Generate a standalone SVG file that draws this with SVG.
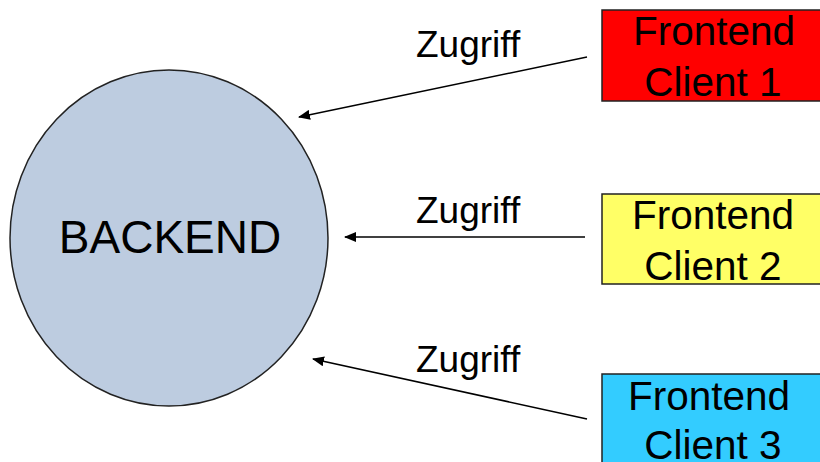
<svg xmlns="http://www.w3.org/2000/svg" width="820" height="462" viewBox="0 0 820 462">
<style>
text{font-family:"Liberation Sans",Arial,sans-serif;fill:#000}
.box{stroke:#222;stroke-width:1.5}
.lbl{font-size:40.5px;text-anchor:middle}
.zg{font-size:37px}
.conn{stroke:#000;stroke-width:1.5;fill:none}
</style>
<defs>
<marker id="ah" viewBox="0 0 12 10" refX="11" refY="5" markerWidth="12" markerHeight="10" markerUnits="userSpaceOnUse" orient="auto">
<path d="M0,0 L12,5 L0,10 Z" fill="#000"/>
</marker>
</defs>
<rect width="820" height="462" fill="#fff"/>
<g id="backend">
<ellipse cx="169" cy="238" rx="159" ry="168" fill="#BDCCE0" stroke="#222" stroke-width="1.5"/>
<text x="170" y="253" style="font-size:46px" text-anchor="middle">BACKEND</text>
</g>
<g id="client1">
<rect class="box" x="602" y="10" width="240" height="91" fill="#FF0000"/>
<text class="lbl" x="714" y="45">Frontend</text>
<text class="lbl" x="713" y="96">Client 1</text>
</g>
<g id="client2">
<rect class="box" x="602" y="194" width="240" height="90" fill="#FFFF66"/>
<text class="lbl" x="713" y="229">Frontend</text>
<text class="lbl" x="713" y="280">Client 2</text>
</g>
<g id="client3">
<rect class="box" x="602" y="374" width="240" height="120" fill="#33CCFF"/>
<text class="lbl" x="709" y="410">Frontend</text>
<text class="lbl" x="713" y="459">Client 3</text>
</g>
<g id="connectors">
<line class="conn" x1="587" y1="57" x2="299" y2="117" marker-end="url(#ah)"/>
<line class="conn" x1="585" y1="237" x2="345" y2="237" marker-end="url(#ah)"/>
<line class="conn" x1="587" y1="419" x2="313" y2="359" marker-end="url(#ah)"/>
<text class="zg" x="416" y="57">Zugriff</text>
<text class="zg" x="416" y="223">Zugriff</text>
<text class="zg" x="416" y="372">Zugriff</text>
</g>
</svg>
